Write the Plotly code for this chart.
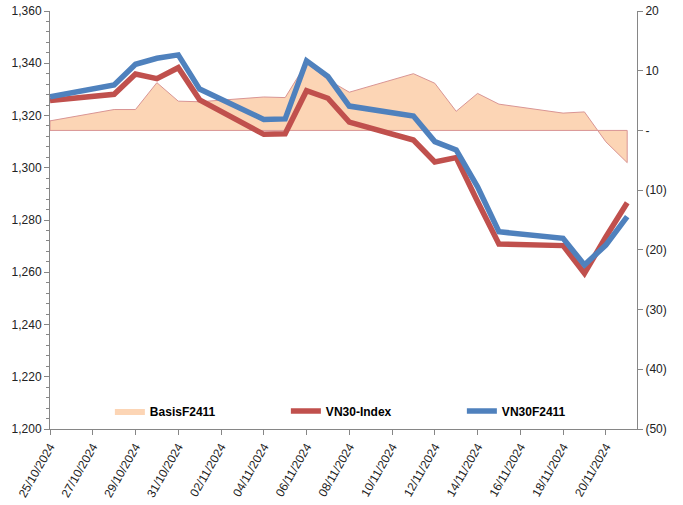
import plotly.graph_objects as go

dates = ["2024-10-25", "2024-10-28", "2024-10-29", "2024-10-30", "2024-10-31",
         "2024-11-01", "2024-11-04", "2024-11-05", "2024-11-06", "2024-11-07",
         "2024-11-08", "2024-11-11", "2024-11-12", "2024-11-13", "2024-11-14",
         "2024-11-15", "2024-11-18", "2024-11-19", "2024-11-20", "2024-11-21"]

vn30_index = [1325.7, 1328.1, 1335.9, 1334.1, 1338.3, 1326.0, 1312.8, 1313.0, 1329.5, 1326.6,
              1317.5, 1310.6, 1302.2, 1303.9, 1287.1, 1270.8, 1270.2, 1259.6, 1273.5, 1286.6]
vn30f2411 = [1327.2, 1331.7, 1339.6, 1341.9, 1343.2, 1330.1, 1318.5, 1318.7, 1340.9, 1334.9,
             1323.6, 1319.8, 1310.0, 1306.8, 1292.7, 1275.5, 1273.0, 1262.8, 1270.4, 1281.3]
basis = [1.6, 3.5, 3.5, 8.0, 4.9, 4.8, 5.6, 5.5, 11.3, 8.5,
         6.4, 9.5, 7.9, 3.2, 6.2, 4.4, 2.9, 3.1, -1.9, -5.4]

x_tick_vals = ["2024-10-25", "2024-10-27", "2024-10-29", "2024-10-31", "2024-11-02",
               "2024-11-04", "2024-11-06", "2024-11-08", "2024-11-10", "2024-11-12",
               "2024-11-14", "2024-11-16", "2024-11-18", "2024-11-20"]
x_tick_text = ["25/10/2024", "27/10/2024", "29/10/2024", "31/10/2024", "02/11/2024",
               "04/11/2024", "06/11/2024", "08/11/2024", "10/11/2024", "12/11/2024",
               "14/11/2024", "16/11/2024", "18/11/2024", "20/11/2024"]
left_tick_vals = [1200, 1220, 1240, 1260, 1280, 1300, 1320, 1340, 1360]
left_tick_text = ["1,200", "1,220", "1,240", "1,260", "1,280", "1,300", "1,320", "1,340", "1,360"]
right_tick_vals = [-50, -40, -30, -20, -10, 0, 10, 20]
right_tick_text = ["(50)", "(40)", "(30)", "(20)", "(10)", "-", "10", "20"]

FONT = "Liberation Sans, Arial, sans-serif"
AXIS = "#868686"
FILL = "#FCD5B5"
EDGE = "#D99594"

fig = go.Figure()

# Basis area fill (legend entry shows the fill box)
fig.add_trace(go.Scatter(
    x=dates + dates[::-1], y=basis + [0] * len(dates),
    fill="toself", fillcolor=FILL, line=dict(color=EDGE, width=0),
    mode="lines", name="BasisF2411", yaxis="y", hoverinfo="skip"))
# Basis area outline
fig.add_trace(go.Scatter(
    x=dates + dates[::-1] + dates[:1], y=basis + [0] * len(dates) + basis[:1],
    mode="lines", line=dict(color=EDGE, width=1), yaxis="y",
    showlegend=False, hoverinfo="skip"))

fig.add_trace(go.Scatter(
    x=dates, y=vn30_index, mode="lines", name="VN30-Index",
    line=dict(color="#C0504D", width=5.5), yaxis="y2"))
fig.add_trace(go.Scatter(
    x=dates, y=vn30f2411, mode="lines", name="VN30F2411",
    line=dict(color="#4F81BD", width=5.5), yaxis="y2"))

fig.update_layout(
    width=683, height=505,
    margin=dict(l=50, r=46, t=11, b=76, autoexpand=False),
    paper_bgcolor="white", plot_bgcolor="white",
    font=dict(family=FONT, size=12, color="#222"),
    showlegend=True,
    legend=dict(orientation="h", x=0.102, y=0.043, xanchor="left", yanchor="middle",
                bgcolor="rgba(0,0,0,0)", entrywidth=131, entrywidthmode="pixels",
                font=dict(family=FONT, size=12, color="#000", weight="bold"),
                traceorder="normal"),
    xaxis=dict(type="date", range=["2024-10-25", "2024-11-21 11:00"],
               tickmode="array", tickvals=x_tick_vals, ticktext=x_tick_text,
               tickangle=-60, showgrid=False, zeroline=False, automargin=False,
               showline=True, linecolor=AXIS, linewidth=1,
               ticks="outside", ticklen=5, tickcolor=AXIS,
               tickfont=dict(family=FONT, size=12, color="#222")),
    yaxis=dict(range=[-50, 20], side="right", tickmode="array", automargin=False,
               tickvals=right_tick_vals, ticktext=right_tick_text,
               ticklabeloverflow="allow",
               showgrid=False, zeroline=False, showline=True, linecolor=AXIS,
               ticks="outside", ticklen=5, tickcolor=AXIS,
               tickfont=dict(family=FONT, size=12, color="#222")),
    yaxis2=dict(range=[1200, 1360], side="left", overlaying="y", tickmode="array",
                automargin=False, ticklabeloverflow="allow",
                tickvals=left_tick_vals, ticktext=left_tick_text,
                showgrid=False, zeroline=False, showline=True, linecolor=AXIS,
                ticks="outside", ticklen=5, tickcolor=AXIS,
                minor=dict(ticks="outside", ticklen=3, tickcolor=AXIS, dtick=4,
                           tick0=1200, showgrid=False),
                tickfont=dict(family=FONT, size=12, color="#222")),
)

fig.write_html("out.html", config={"displayModeBar": False},
               post_script="document.body.style.margin='0';document.body.style.overflow='hidden';")
